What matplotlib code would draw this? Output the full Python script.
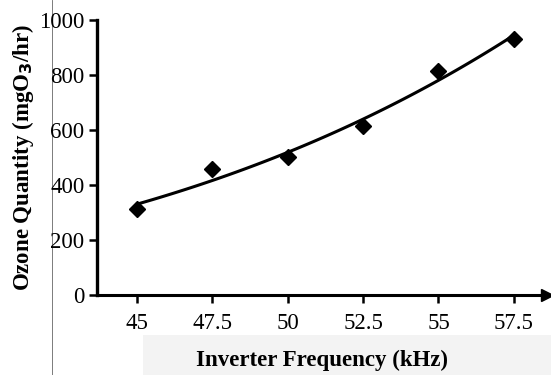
import numpy as np
import matplotlib
matplotlib.use("Agg")
import matplotlib.pyplot as plt
from matplotlib.lines import Line2D
from matplotlib.patches import Rectangle

freq = [45, 47.5, 50, 52.5, 55, 57.5]
freq_labels = ["45", "47.5", "50", "52.5", "55", "57.5"]
ozone = [314, 460, 502, 613, 813, 931]

plt.rcParams['font.family'] = ['Liberation Serif', 'DejaVu Serif']

fig = plt.figure(figsize=(5.51, 3.75), dpi=100)

# faint scan artifacts
fig.add_artist(Rectangle((143 / 551, 0), 1, 40 / 375, color='#f3f3f3', lw=0, zorder=0))
fig.add_artist(Line2D([52 / 551, 52 / 551], [0, 1], color='#666666', lw=0.6, zorder=0))

ax = fig.add_axes([97 / 551, 80 / 375, 450 / 551, 275 / 375])
ax.patch.set_alpha(0)

pos = np.arange(1, len(ozone) + 1)

# power trendline on the frequency values
b, a = np.polyfit(np.log(freq), np.log(ozone), 1)
fs = np.linspace(freq[0], freq[-1], 100)
xs = np.interp(fs, freq, pos)
ax.plot(xs, np.exp(a) * fs ** b, color='black', lw=2.2, zorder=2)
ax.plot(pos, ozone, 'D', color='black', ms=8, zorder=3)

ax.set_xlim(0.47, 6.44)
ax.set_ylim(0, 1000)
ax.set_xticks(pos)
ax.set_xticklabels(freq_labels)
ax.set_yticks(range(0, 1001, 200))

for s in ['top', 'right']:
    ax.spines[s].set_visible(False)
ax.spines['left'].set_linewidth(2.4)
ax.spines['bottom'].set_linewidth(2.2)
ax.spines['left'].set_bounds(0, 1000)
ax.plot(1.0, 0, '>', color='black', ms=9, transform=ax.transAxes, clip_on=False)

ax.tick_params(axis='x', direction='out', length=6, width=1.8, pad=7, labelsize=16.5)
ax.tick_params(axis='y', direction='out', length=6, width=1.8, pad=3, labelsize=16.5)

ax.set_xlabel('Inverter Frequency (kHz)', fontsize=16.5, fontweight='bold', labelpad=11)
ax.set_ylabel('Ozone Quantity (mgO$_\\mathbf{3}$/hr)', fontsize=16.5, fontweight='bold', labelpad=2)

fig.savefig('out.png', dpi=100)
